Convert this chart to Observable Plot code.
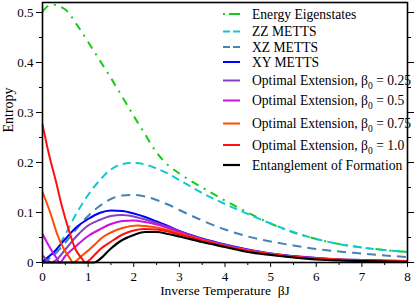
<!DOCTYPE html>
<html>
<head>
<meta charset="utf-8">
<script src="https://cdn.jsdelivr.net/npm/d3@7"></script>
<script src="https://cdn.jsdelivr.net/npm/@observablehq/plot@0.6"></script>
<style>
  html, body { margin: 0; padding: 0; background: #fff; }
  #chart { width: 415px; height: 300px; }
  #chart svg text { font-family: 'Liberation Serif', 'Times New Roman', Times, serif; }
</style>
</head>
<body>
<div id="chart"></div>
<script>
// ---- data ----
const eigenX = [0, 0.2, 0.5, 0.75, 1, 1.25, 1.5, 1.75, 2, 2.25, 2.5, 2.75, 3, 3.5, 4, 4.5, 5, 5.5, 6, 6.5, 7, 7.5, 8];
const eigenY = [0.502, 0.516, 0.506, 0.476, 0.441, 0.405, 0.369, 0.331, 0.293, 0.256, 0.220, 0.195, 0.178, 0.150, 0.124, 0.100, 0.078, 0.060, 0.047, 0.037, 0.030, 0.025, 0.021];

const zzX = [0, 0.25, 0.5, 0.75, 1, 1.25, 1.5, 1.75, 2, 2.25, 2.5, 2.75, 3, 3.5, 4, 4.5, 5, 5.5, 6, 6.5, 7, 7.5, 8];
const zzY = [0, 0.017, 0.056, 0.099, 0.135, 0.164, 0.186, 0.197, 0.199, 0.196, 0.188, 0.178, 0.165, 0.139, 0.117, 0.097, 0.078, 0.061, 0.047, 0.037, 0.030, 0.025, 0.021];

const xzX = [0, 0.25, 0.5, 0.75, 1, 1.25, 1.5, 1.75, 2, 2.25, 2.5, 2.75, 3, 3.5, 4, 4.5, 5, 5.5, 6, 6.5, 7, 7.5, 8];
const xzY = [0, 0.015, 0.040, 0.068, 0.093, 0.113, 0.127, 0.134, 0.135, 0.132, 0.125, 0.116, 0.105, 0.084, 0.066, 0.052, 0.042, 0.034, 0.027, 0.022, 0.018, 0.014, 0.011];

const xyX = [0, 0.25, 0.5, 0.75, 1, 1.25, 1.5, 1.75, 2, 2.25, 2.5, 2.75, 3, 3.5, 4, 4.5, 5, 5.5, 6, 6.5, 7, 7.5, 8];
const xyY = [0.002, 0.021, 0.047, 0.071, 0.087, 0.099, 0.104, 0.103, 0.098, 0.091, 0.082, 0.073, 0.063, 0.048, 0.036, 0.026, 0.018, 0.013, 0.009, 0.006, 0.005, 0.004, 0.003];

const ext025X = [0, 0.1, 0.2, 0.3, 0.5, 0.75, 1, 1.25, 1.5, 1.75, 2, 2.25, 2.5, 2.75, 3, 3.5, 4, 4.5, 5, 5.5, 6, 6.5, 7, 7.5, 8];
const ext025Y = [0.014, 0.005, 0.0, 0.005, 0.026, 0.053, 0.074, 0.085, 0.093, 0.095, 0.092, 0.086, 0.079, 0.071, 0.062, 0.047, 0.035, 0.025, 0.018, 0.012, 0.009, 0.006, 0.004, 0.003, 0.002];

const ext05X = [0, 0.1, 0.2, 0.3, 0.38, 0.5, 0.75, 1, 1.25, 1.5, 1.75, 2, 2.25, 2.5, 2.75, 3, 3.5, 4, 4.5, 5, 5.5, 6, 6.5, 7, 7.5, 8];
const ext05Y = [0.057, 0.040, 0.024, 0.010, 0.0, 0.013, 0.034, 0.053, 0.066, 0.077, 0.083, 0.084, 0.081, 0.076, 0.069, 0.061, 0.046, 0.034, 0.025, 0.017, 0.012, 0.008, 0.006, 0.004, 0.003, 0.002];

const ext075X = [0, 0.18, 0.32, 0.47, 0.61, 0.66, 0.87, 1.16, 1.27, 1.5, 1.75, 2.08, 2.25, 2.5, 2.75, 3, 3.5, 4, 4.5, 5, 5.5, 6, 6.5, 7, 7.5, 8];
const ext075Y = [0.141, 0.097, 0.057, 0.027, 0.007, 0.0, 0.014, 0.037, 0.047, 0.060, 0.069, 0.074, 0.073, 0.070, 0.065, 0.058, 0.045, 0.033, 0.024, 0.017, 0.011, 0.008, 0.006, 0.004, 0.003, 0.002];

const ext1X = [0, 0.14, 0.29, 0.43, 0.58, 0.72, 0.87, 0.93, 1.16, 1.27, 1.49, 1.78, 2, 2.22, 2.5, 2.75, 3, 3.5, 4, 4.5, 5, 5.5, 6, 6.5, 7, 7.5, 8];
const ext1Y = [0.276, 0.217, 0.164, 0.111, 0.064, 0.027, 0.007, 0.0, 0.017, 0.027, 0.041, 0.057, 0.064, 0.067, 0.066, 0.062, 0.056, 0.044, 0.032, 0.023, 0.016, 0.011, 0.008, 0.005, 0.004, 0.003, 0.002];

const eofX = [0, 1.13, 1.25, 1.5, 1.75, 2, 2.25, 2.5, 2.75, 3, 3.5, 4, 4.5, 5, 5.5, 6, 6.5, 7, 7.5, 8];
const eofY = [0, 0, 0.006, 0.028, 0.045, 0.055, 0.061, 0.061, 0.057, 0.052, 0.041, 0.031, 0.021, 0.015, 0.010, 0.006, 0.004, 0.003, 0.002, 0.001];

const yMajor = [0, 0.1, 0.2, 0.3, 0.4, 0.5];
const yMinor = [0.05, 0.15, 0.25, 0.35, 0.45];
const xMajor = [0, 1, 2, 3, 4, 5, 6, 7, 8];
const xMinor = [0.5, 1.5, 2.5, 3.5, 4.5, 5.5, 6.5, 7.5];

const seriesNames = [
  "Energy Eigenstates", "ZZ METTS", "XZ METTS", "XY METTS",
  "Optimal Extension, β0 = 0.25", "Optimal Extension, β0 = 0.5",
  "Optimal Extension, β0 = 0.75", "Optimal Extension, β0 = 1.0",
  "Entanglement of Formation"
];
const seriesX = [eigenX, zzX, xzX, xyX, ext025X, ext05X, ext075X, ext1X, eofX];
const seriesY = [eigenY, zzY, xzY, xyY, ext025Y, ext05Y, ext075Y, ext1Y, eofY];

// ---- styles ----
const colors = ["#14cc14", "#10c8d2", "#4682b4", "#0000ff", "#8040c4", "#cc10dd", "#ff4a00", "#ff1010", "#000000"];
const dashes = ["8,6,2,6", "8,5", "9,6", null, null, null, null, null, null];
const widths = [2, 2, 2, 2, 2, 2, 2, 2, 2.2];

const series = seriesNames.map((name, i) => ({
  name, color: colors[i], dash: dashes[i], width: widths[i],
  data: seriesX[i].map((x, j) => ({x, y: seriesY[i][j]}))
}));

const font = "'Liberation Serif', 'Times New Roman', Times, serif";
const blank = () => "";

const lineMarks = series.map(s => Plot.line(s.data, {
  x: "x", y: "y", stroke: s.color, strokeWidth: s.width,
  strokeDasharray: s.dash || undefined, curve: "monotone-x", strokeLinecap: "butt"
}));

const chart = Plot.plot({
  width: 415, height: 300,
  marginLeft: 42, marginRight: 8, marginTop: 2, marginBottom: 38,
  x: {domain: [0, 8]},
  y: {domain: [0, 0.52]},
  style: {fontFamily: font, fontSize: "13px", background: "#fff", color: "#000"},
  marks: [
    Plot.axisY({ticks: yMajor, tickSize: 6, tickPadding: 3, label: null,
      tickFormat: d => d === 0 ? "0" : d.toFixed(1), fontSize: 13}),
    Plot.axisY({ticks: yMinor, tickSize: 3, tickFormat: blank, label: null}),
    Plot.axisY({anchor: "right", ticks: yMajor, tickSize: 6, tickFormat: blank, label: null}),
    Plot.axisY({anchor: "right", ticks: yMinor, tickSize: 3, tickFormat: blank, label: null}),
    Plot.axisX({ticks: xMajor, tickSize: 5, tickPadding: 4, label: null, fontSize: 13}),
    Plot.axisX({ticks: xMinor, tickSize: 3, tickFormat: blank, label: null}),
    ...lineMarks,
    Plot.frame({stroke: "#000", strokeWidth: 1.6}),
    Plot.text(["Inverse Temperature\u00a0\u00a0βJ"], {frameAnchor: "bottom", dy: 32, fontSize: 13.5}),
    Plot.text(["Entropy"], {frameAnchor: "left", dx: -34, rotate: -90, fontSize: 14})
  ]
});

document.getElementById("chart").appendChild(chart);

// ---- legend (inside the plot, top right) ----
const legendRowsY = [14, 31.5, 47, 62, 80.5, 100.5, 123.5, 145, 165];
const svg = d3.select(chart);
const lg = svg.append("g").style("font-size", "13.6px").attr("text-anchor", "start");
series.forEach((s, i) => {
  const y = legendRowsY[i];
  lg.append("line").attr("x1", 223).attr("x2", 240).attr("y1", y).attr("y2", y)
    .attr("stroke", s.color).attr("stroke-width", s.width)
    .attr("stroke-dasharray", s.dash ? (i === 0 ? "2,4,11,0" : "7,3") : null);
  const t = lg.append("text").attr("x", 252).attr("y", y + 4.5).attr("fill", "#000").attr("text-anchor", "start");
  const m = s.name.match(/^(.*β)0( = .*)$/);
  if (m) {
    t.append("tspan").text(m[1]);
    t.append("tspan").attr("dy", 4).style("font-size", "9.5px").text("0");
    t.append("tspan").attr("dy", -4).text(m[2]);
  } else {
    t.text(s.name);
  }
});
</script>
</body>
</html>
